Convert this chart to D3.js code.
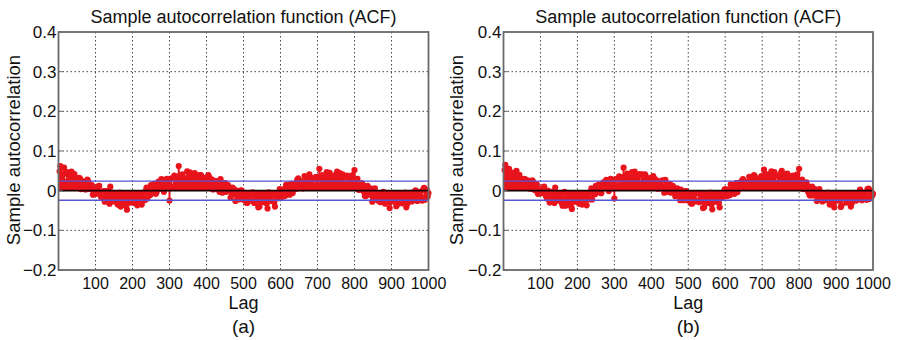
<!DOCTYPE html>
<html>
<head>
<meta charset="utf-8">
<script src="https://cdn.jsdelivr.net/npm/d3@7"></script>
<style>
  body { margin: 0; background: #fff; }
  svg { display: block; font-family: 'Liberation Sans', Arial, sans-serif; }
</style>
</head>
<body>
<svg width="897" height="340"></svg>
<script>
// two interleaved lag grids: 5, 10, ..., 1000 and 3, 8, ..., 998
let lagStep = 5;
let xTicks = [100, 200, 300, 400, 500, 600, 700, 800, 900, 1000];
let yTicks = [-0.2, -0.1, 0, 0.1, 0.2, 0.3, 0.4];
let bound = 0.024;

// panel (a), lags 5..1000, in thousandths
let acfA = [
  62, 29, 58, 22, 43, 30, 48, 18, 29, 19, 32, 4, 24, 15, 4, 24, 4, 14, -9, 4,
  -3, 12, -16, -2, -28, -1, -19, 10, -5, -27, -17, -35, -5, -26, -35, -18, -48, -20, -13, -29,
  -31, -9, -23, -10, -35, -11, -1, -20, -5, 14, -5, 7, -4, 23, 9, 21, -3, 28, 15, -25,
  31, 10, 31, 26, 62, 21, 41, 19, 31, 27, 46, 22, 37, 14, 39, 27, 39, 14, 29, 19,
  39, 16, 28, 6, 17, 24, -3, 14, 0, 19, 3, 7, -18, 8, -9, 1, -20, -10, 0, -23,
  -12, -31, -13, -23, -4, -31, -20, -42, -13, -28, -23, -7, -45, -13, -26, -6, -40, -9, -11, 2,
  -16, 4, 14, 0, -10, 17, 12, 4, 27, 11, 24, 6, 37, 20, 13, 34, 28, 10, 34, 23,
  55, 22, 30, 17, 47, 29, 37, 22, 35, 41, 14, 44, 25, 35, 16, 38, 27, 16, 39, 52,
  26, 3, 14, 19, -2, -14, 12, -6, 0, -20, 6, -18, -14, -29, -9, -15, -28, -9, -44, -17,
  -26, -13, -35, -22, -9, -30, -17, -42, -8, -21, -27, -10, 1, -26, -9, -15, 2, -23, 2, -6
];
// panel (a), lags 3..998
let acfAOdd = [
  49, 37, 41, 18, 47, 27, 39, 15, 42, 25, 18, 31, 6, 18, 3, 28, 6, 12, -10, 6,
  -8, 11, -4, -18, -1, -15, -2, -33, -12, -21, -8, -30, -20, -40, -16, -25, -38, -18, -30, -9,
  -26, -14, -37, -8, -23, -12, -24, 8, 2, -11, 0, 17, -8, 14, 5, 29, 18, 7, 30, 19,
  29, 7, 38, 19, 32, 38, 16, 31, 25, 49, 21, 38, 29, 44, 15, 23, 39, 30, 14, 33,
  19, 33, 26, 3, 24, 5, 11, 29, -5, 10, -3, 14, 0, -9, 5, -26, -4, -22, 1, -18,
  -14, -30, -11, -25, -8, -30, -23, -16, -40, -14, -29, -20, -33, -4, -23, -10, -29, -8, -19, 4,
  -11, 1, -13, 14, 4, 17, -6, 18, 5, 31, 13, 19, 9, 33, 14, 41, 23, 30, 12, 35,
  30, 24, 39, 11, 38, 28, 45, 22, 35, 26, 48, 31, 19, 41, 34, 11, 36, 23, 37, 15,
  15, 30, 2, 8, 14, -13, 3, -10, 6, -28, -3, -10, -25, -10, -20, -3, -33, -20, -29, -11,
  -27, -15, -39, -20, -13, -32, -23, -5, -33, -13, -23, -4, -23, -12, -3, -13, -25, 7, 0, -15
];

// panel (b), lags 5..1000
let acfB = [
  65, 33, 55, 30, 45, 27, 50, 21, 31, 17, 30, 10, 26, 12, 6, 22, 1, 16, -7, 2,
  -5, 10, -14, 0, -30, -3, -21, 8, -8, -25, -15, -38, -3, -30, -33, -20, -46, -18, -15, -27,
  -33, -7, -25, -12, -37, -9, -3, -22, -2, 12, -2, 9, -6, 21, 11, 19, -1, 30, 17, -20,
  29, 12, 33, 24, 58, 23, 43, 17, 33, 25, 48, 20, 39, 16, 41, 25, 37, 12, 31, 21,
  37, 18, 26, 8, 15, 26, -5, 12, 2, 17, 5, 9, -14, 6, -11, 3, -22, -8, -2, -25,
  -10, -33, -11, -25, -6, -29, -22, -44, -15, -26, -25, -5, -47, -11, -28, -8, -42, -7, -13, 4,
  -14, 2, 16, -2, -8, 19, 10, 6, 25, 13, 22, 8, 35, 22, 11, 36, 26, 12, 32, 25,
  53, 24, 28, 19, 49, 27, 39, 20, 37, 43, 20, 42, 27, 33, 18, 36, 29, 14, 41, 55,
  24, 5, 12, 21, -4, -12, 10, -8, 2, -22, 4, -20, -12, -24, -11, -13, -30, -7, -42, -19,
  -24, -15, -37, -20, -11, -28, -19, -40, -10, -23, -25, -12, 3, -24, -11, -13, 4, -21, 0, -8
];
// panel (b), lags 3..998
let acfBOdd = [
  52, 35, 44, 20, 45, 29, 37, 17, 40, 23, 20, 29, 8, 16, 5, 26, 4, 14, -8, 4,
  -6, 9, -6, -20, -3, -13, -4, -31, -14, -23, -6, -32, -22, -38, -18, -23, -40, -16, -28, -11,
  -24, -16, -35, -10, -21, -14, -22, 6, 4, -9, 2, 15, -6, 16, 7, 27, 20, 9, 28, 21,
  27, 9, 36, 21, 34, 36, 18, 33, 23, 47, 23, 36, 31, 42, 17, 21, 41, 28, 16, 31,
  21, 31, 24, 5, 22, 7, 9, 27, -3, 12, -5, 12, 2, -11, 3, -24, -6, -24, -1, -20,
  -12, -32, -13, -27, -6, -28, -25, -18, -42, -12, -31, -18, -35, -6, -21, -12, -31, -6, -17, 2,
  -9, 3, -11, 12, 6, 15, -4, 20, 7, 29, 15, 17, 11, 31, 16, 39, 25, 28, 14, 37,
  28, 26, 41, 13, 36, 30, 47, 20, 37, 24, 50, 29, 21, 43, 32, 13, 38, 21, 39, 17,
  17, 28, 4, 6, 12, -11, 1, -12, 4, -26, -5, -12, -27, -8, -22, -5, -35, -18, -31, -13,
  -25, -17, -41, -18, -15, -30, -25, -7, -31, -15, -21, -6, -21, -14, -5, -11, -23, 5, -2, -13
];

let panels = [
  { name: '(a)', even: acfA, odd: acfAOdd, left: 58.5, right: 428.5, ylab: 14 },
  { name: '(b)', even: acfB, odd: acfBOdd, left: 503.5, right: 873, ylab: 457 }
];

let svg = d3.select('svg');
let plotTop = 32, plotBottom = 270;
let red = '#e8141c';

panels.forEach(function(p) {
  let x = d3.scaleLinear().domain([0, 1000]).range([p.left, p.right]);
  let y = d3.scaleLinear().domain([-0.2, 0.4]).range([plotBottom, plotTop]);
  let pts = p.even.map(function(v, i) {
    return { lag: (i + 1) * lagStep, v: v / 1000 };
  }).concat(p.odd.map(function(v, i) {
    return { lag: (i + 1) * lagStep - 2, v: v / 1000 };
  }));
  pts.sort(function(a, b) { return a.lag - b.lag; });
  let g = svg.append('g');

  // dotted grid
  g.append('g').selectAll('line')
    .data(xTicks.slice(0, -1))
    .enter().append('line')
    .attr('x1', function(d) { return x(d); })
    .attr('x2', function(d) { return x(d); })
    .attr('y1', plotTop).attr('y2', plotBottom)
    .attr('stroke', '#444').attr('stroke-width', 1)
    .attr('stroke-dasharray', '1.5,2.5');
  g.append('g').selectAll('line')
    .data(yTicks.slice(1, -1))
    .enter().append('line')
    .attr('x1', p.left).attr('x2', p.right)
    .attr('y1', function(d) { return y(d); })
    .attr('y2', function(d) { return y(d); })
    .attr('stroke', '#444').attr('stroke-width', 1)
    .attr('stroke-dasharray', '1.5,2.5');

  // stems
  g.append('g').selectAll('line')
    .data(pts)
    .enter().append('line')
    .attr('x1', function(d) { return x(d.lag); })
    .attr('x2', function(d) { return x(d.lag); })
    .attr('y1', y(0))
    .attr('y2', function(d) { return y(d.v); })
    .attr('stroke', red).attr('stroke-width', 2);

  // markers
  g.append('g').selectAll('circle')
    .data(pts)
    .enter().append('circle')
    .attr('cx', function(d) { return x(d.lag); })
    .attr('cy', function(d) { return y(d.v); })
    .attr('r', 3.1)
    .attr('fill', red);

  // zero line and confidence bounds
  g.append('line')
    .attr('x1', p.left).attr('x2', p.right)
    .attr('y1', y(0)).attr('y2', y(0))
    .attr('stroke', '#1a0000').attr('stroke-width', 1.6);
  g.append('g').selectAll('line')
    .data([bound, -bound])
    .enter().append('line')
    .attr('x1', p.left).attr('x2', p.right)
    .attr('y1', function(d) { return y(d); })
    .attr('y2', function(d) { return y(d); })
    .attr('stroke', '#5555d8').attr('stroke-width', 1.4);

  // small inward ticks on the left axis
  g.append('g').selectAll('line')
    .data(yTicks)
    .enter().append('line')
    .attr('x1', p.left).attr('x2', p.left + 4)
    .attr('y1', function(d) { return y(d); })
    .attr('y2', function(d) { return y(d); })
    .attr('stroke', '#666').attr('stroke-width', 1);

  // box
  g.append('rect')
    .attr('x', p.left).attr('y', plotTop)
    .attr('width', p.right - p.left).attr('height', plotBottom - plotTop)
    .attr('fill', 'none').attr('stroke', '#6a6a6a').attr('stroke-width', 1.8);

  // tick labels
  g.append('g').selectAll('text')
    .data(yTicks)
    .enter().append('text')
    .attr('x', p.left - 2)
    .attr('y', function(d) { return y(d); })
    .attr('dy', '0.36em')
    .attr('text-anchor', 'end')
    .attr('font-size', 17)
    .attr('fill', '#111')
    .text(function(d) { return d === 0 ? '0' : d3.format('.1f')(d).replace('-', '\u2212'); });
  g.append('g').selectAll('text')
    .data(xTicks)
    .enter().append('text')
    .attr('x', function(d) { return x(d); })
    .attr('y', 289)
    .attr('text-anchor', 'middle')
    .attr('font-size', 16)
    .attr('fill', '#111')
    .text(function(d) { return d; });

  let cx = (p.left + p.right) / 2;
  g.append('text')
    .attr('x', cx).attr('y', 23)
    .attr('text-anchor', 'middle')
    .attr('font-size', 18)
    .attr('fill', '#111')
    .text('Sample autocorrelation function (ACF)');
  g.append('text')
    .attr('x', cx).attr('y', 309)
    .attr('text-anchor', 'middle')
    .attr('font-size', 18)
    .attr('fill', '#111')
    .text('Lag');
  g.append('text')
    .attr('x', cx).attr('y', 333)
    .attr('text-anchor', 'middle')
    .attr('font-size', 19)
    .attr('fill', '#111')
    .text(p.name);
  g.append('text')
    .attr('transform', 'translate(' + (p.ylab + 6) + ',' + 150 + ') rotate(-90)')
    .attr('text-anchor', 'middle')
    .attr('font-size', 18.5)
    .attr('fill', '#111')
    .text('Sample autocorrelation');
});
</script>
</body>
</html>
